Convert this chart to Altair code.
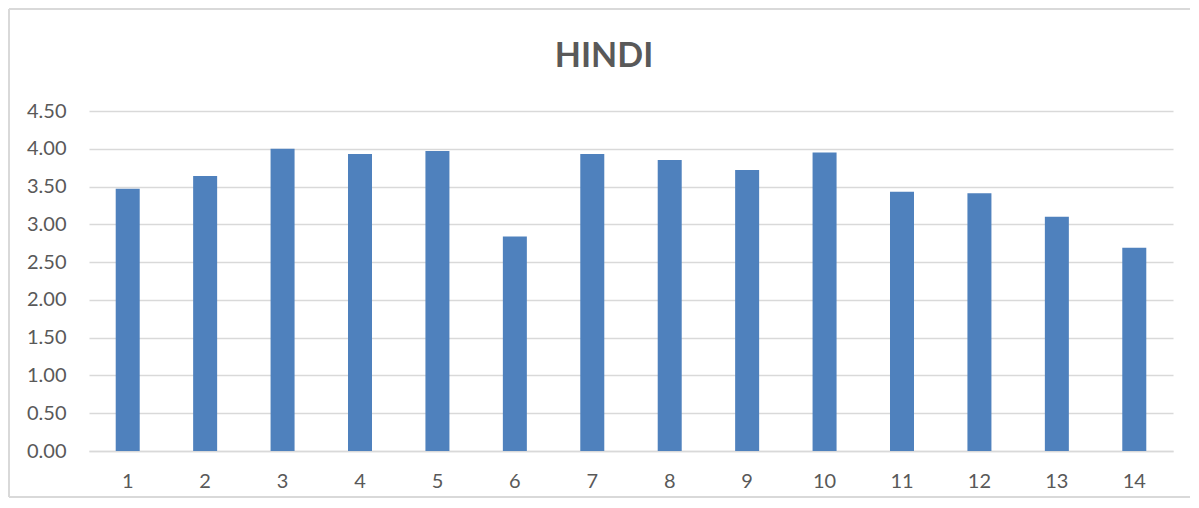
import altair as alt
import pandas as pd

categories = [str(i) for i in range(1, 15)]
values = [3.47, 3.64, 4.00, 3.93, 3.97, 2.84, 3.93, 3.85, 3.72, 3.95, 3.43, 3.41, 3.10, 2.69]

df = pd.DataFrame({"cat": categories, "val": values})

FONT = "Lato"
GRAY = "#595959"
BORDER = "#d9d9d9"
W, H = 1084, 340

edge = dict(stroke=BORDER, strokeWidth=1.5, clip=False)
top_edge = alt.Chart(df).mark_rule(**edge).encode(
    x=alt.value(-80), x2=alt.value(W + 18), y=alt.value(-102))
bottom_edge = alt.Chart(df).mark_rule(**edge).encode(
    x=alt.value(-80), x2=alt.value(W + 18), y=alt.value(H + 46))
left_edge = alt.Chart(df).mark_rule(**edge).encode(
    x=alt.value(-80), y=alt.value(-102), y2=alt.value(H + 46))

bars = alt.Chart(df).mark_bar(color="#4F81BD").encode(
    x=alt.X("cat:N", sort=categories, title=None,
            scale=alt.Scale(paddingInner=0.69, paddingOuter=0.345),
            axis=alt.Axis(labelAngle=0, labelFont=FONT, labelFontSize=20,
                          labelColor=GRAY, ticks=False, domain=True,
                          domainColor=BORDER, domainWidth=1.5,
                          labelPadding=20, grid=False)),
    y=alt.Y("val:Q", title=None,
            scale=alt.Scale(domain=[0, 4.5], nice=False),
            axis=alt.Axis(values=[0, 0.5, 1, 1.5, 2, 2.5, 3, 3.5, 4, 4.5],
                          format=".2f", labelFont=FONT, labelFontSize=20,
                          labelColor=GRAY, ticks=False, domain=False,
                          labelPadding=23, gridColor=BORDER, gridWidth=1.5)),
)

chart = alt.layer(top_edge, bottom_edge, left_edge, bars).properties(
    width=W, height=H,
    title=alt.TitleParams("HINDI", font=FONT, fontSize=34, fontWeight="bold",
                          color=GRAY, anchor="middle", frame="group", dx=-27,
                          baseline="alphabetic", offset=-93),
    autosize=alt.AutoSizeParams(type="none"),
    padding={"left": 81, "top": 103, "right": 17, "bottom": 49},
    background="white",
).configure_view(stroke=None)

chart.save("out.html", embed_options={"renderer": "svg", "actions": False})
